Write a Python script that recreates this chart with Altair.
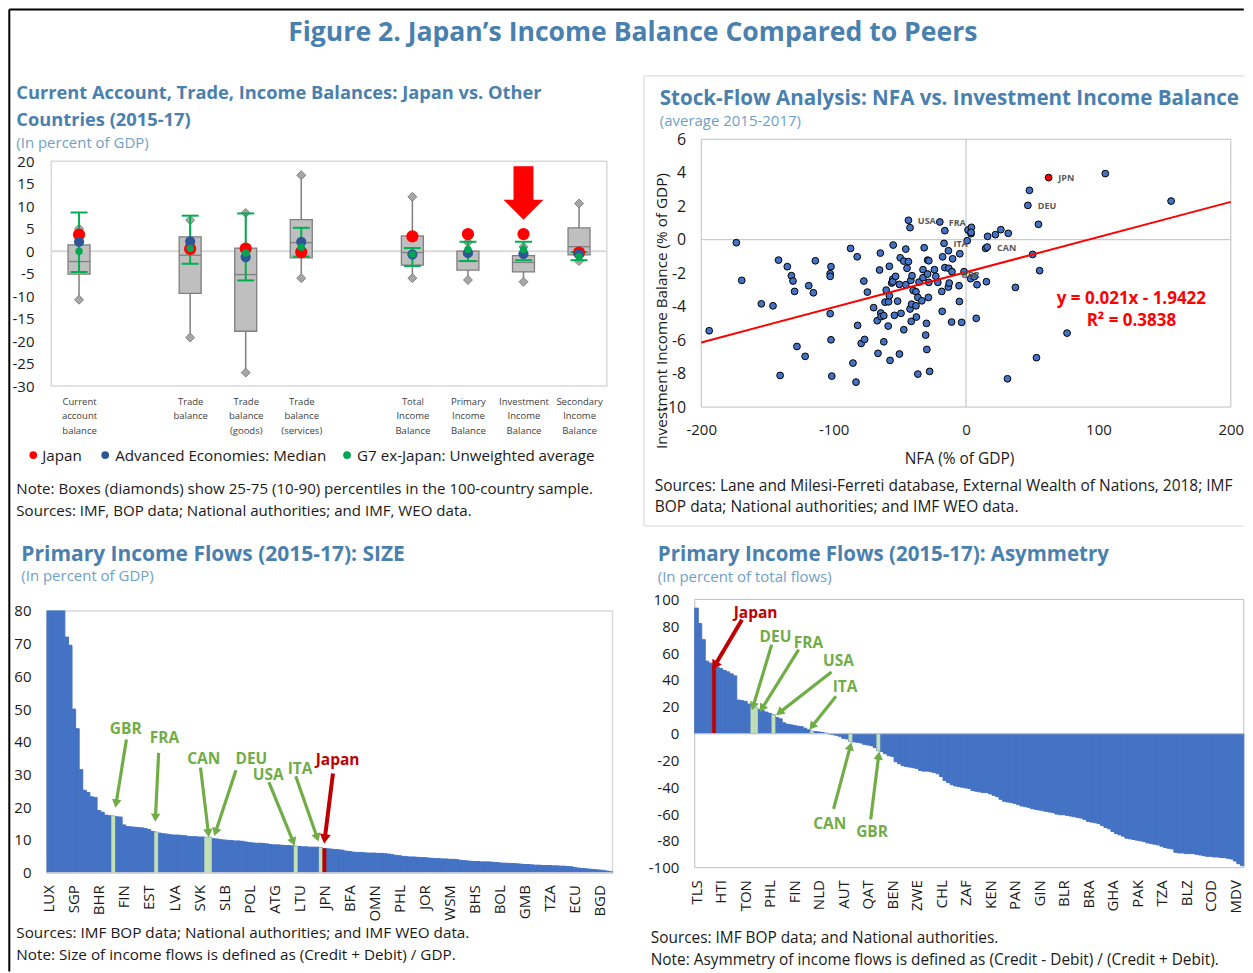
import math
import altair as alt
import pandas as pd

FONT = "Open Sans"
TITLE_C = "#4A80AE"
SUB_C = "#6F9FC8"
TXT_C = "#1a1a1a"
BLUE = "#4472C4"
LGREEN = "#C5E0B4"
GREEN = "#70AD47"
DRED = "#C00000"
FRAME = "#D9D9D9"
HYPHEN = "datum.value < 0 ? '-' + abs(datum.value) : '' + datum.value"

# ---------- Panel A ----------
a_pos = [0, 2, 3, 4, 6, 7, 8, 9]
a_names = ["Current|account|balance", "", "Trade|balance", "Trade|balance|(goods)", "Trade|balance|(services)", "",
           "Total|Income|Balance", "Primary|Income|Balance", "Investment|Income|Balance", "Secondary|Income|Balance"]
a_q1 = [-5.1, -9.4, -17.8, -1.5, -3.1, -4.2, -4.6, -0.8]
a_q3 = [1.4, 3.2, 0.7, 7.0, 3.4, 0.0, -1.0, 5.2]
a_med = [-2.3, -0.9, -5.2, 1.9, -0.3, -2.2, -2.5, 1.0]
a_lo = [-10.8, -19.2, -27.0, -6.0, -6.0, -6.4, -6.8, -2.2]
a_hi = [5.0, 6.9, 8.5, 16.9, 12.1, 2.0, 1.0, 10.6]
a_jpn = [3.7, 0.5, 0.6, -0.2, 3.3, 3.8, 3.8, -0.3]
a_ae = [2.1, 2.2, -1.3, 2.1, -0.7, -0.4, -0.6, -0.7]
a_g7 = [0.0, 0.6, -0.4, 0.9, -0.7, 0.4, 0.4, -1.2]
a_g7hi = [8.6, 7.9, 8.4, 5.2, 0.7, 2.1, 2.1, -0.2]
a_g7lo = [-4.6, -2.8, -6.5, -1.2, -3.3, -2.2, -2.0, -2.0]

# ---------- Panel B ----------
b_x = [-194, -173.5, -169.4, -154.6, -145.8, -141.6, -140.4, -135, -131.9, -130.7, -129.5, -127.7, -121.5, -118.8,
       -115.3, -113.8, -102.6, -102, -101.4, -102, -102.6, -102.6, -87.2, -85.4, -83.1, -82.2, -81.9, -79.2, -76.6,
       -77.2, -74.5, -69.8, -67.1, -66.5, -65.3, -64.7, -64.4, -64.2, -62.1, -62.1, -60.3, -61.2, -58.5, -58.8, -57.9,
       -57.9, -57.4, -56.2, -55.3, -55.3, -55, -54.1, -53.2, -51.7, -50.3, -50.3, -49.7, -49.1, -47, -47, -45.5, -45.5,
       -44.6, -43.5, -43.5, -42.3, -42.3, -41.7, -41.1, -40.8, -41.4, -39.9, -37.8, -37.8, -37.5, -36.4, -36.4, -35.5,
       -33.4, -32.5, -32.5, -31.6, -30.5, -29.9, -29.6, -29, -29, -28.1, -28.4, -28.1, -27.5, -23.9, -22.8, -21.3,
       -19.8, -18, -18.3, -17.7, -16.6, -16, -16, -13.3, -13, -13.3, -12.7, -10.9, -10.6, -10.1, -5.3, -5, -4.7, -3.3,
       -1.5, 0.9, 1.5, 3.5, 4.1, 3.8, 3.8, 6.2, 7.7, 8.3, 14.8, 15.4, 16, 16.3, 22.2, 26.3, 31.9, 31.3, 37.3, 46.7,
       47.9, 50.3, 53.2, 54.7, 55.6, 76.3, 105.2, 154.9]
b_y = [-5.44, -0.18, -2.43, -3.83, -3.95, -1.22, -8.11, -1.61, -2.15, -2.47, -3.09, -6.38, -6.97, -2.75, -3.17, -1.26,
       -4.42, -5.98, -8.15, -1.61, -2.03, -2.19, -0.52, -7.37, -8.51, -1.02, -5.12, -6.2, -5.96, -2.47, -3.13, -4.06,
       -4.84, -6.79, -1.81, -0.8, -4.38, -4.6, -4.54, -6.1, -3.01, -3.73, -3.71, -5.16, -1.59, -3.35, -7.21, -2.59,
       -2.35, -2.51, -0.32, -4.52, -2.19, -3.67, -6.83, -2.67, -1.08, -4.4, -1.28, -5.38, -0.56, -2.69, -1.71, 1.16,
       -1.31, 0.72, -4.14, -2.43, -3.85, -2.15, -4.88, -3.03, -3.11, -3.95, -4.62, -3.45, -8.03, -2.53, -3.65, -1.79,
       -2.27, -0.48, -5.7, -5.0, -6.56, -2.05, -1.22, -1.26, -3.45, -2.55, -7.87, -1.79, -2.19, -2.55, 1.06, -4.28,
       -3.09, -1.02, -0.22, 0.54, -1.67, -0.66, -1.71, -2.83, -2.59, -4.92, -1.91, -1.14, -2.75, -3.69, -0.84, -4.94,
       -1.91, -0.06, 0.58, -2.33, 0.74, 0.36, 0.44, -2.21, -4.7, -2.69, -0.52, -2.51, -0.44, 0.2, 0.3, 0.6, 0.38,
       -8.31, -2.85, 2.05, 2.95, -0.88, -7.05, 0.92, -1.85, -5.58, 3.95, 2.31]
b_jpn_x, b_jpn_y = [62.4], [3.71]
b_fit_x = [-200, 200]
b_fit_y = [-6.14, 2.26]
b_lab = ["JPN", "DEU", "USA", "FRA", "ITA", "CAN", "GBR"]
b_lab_x = [75.7, 61.2, -29.6, -6.6, -4.1, 30.7, 3.3]
b_lab_y = [3.69, 2.01, 1.12, 1.0, -0.24, -0.5, -2.13]

# ---------- Panel C ----------
c_val = [80, 80, 80, 80, 80, 72, 69.5, 50, 44, 31.5, 25.2, 24.5, 23.2, 23, 19, 18.5, 17.6, 17.4, 17.3, 17.1, 17, 14.6,
         14.1, 14, 13.9, 13.8, 13.7, 13.5, 13.2, 12.6, 12.4, 12.1, 11.9, 11.8, 11.6, 11.5, 11.5, 11.4, 11.3, 11.1, 11,
         11, 10.9, 10.9, 10.8, 10.8, 10.4, 10.3, 10.1, 10, 9.9, 9.8, 9.7, 9.7, 9.6, 9.4, 9.2, 9.1, 9, 9, 8.9, 8.8, 8.6,
         8.5, 8.5, 8.4, 8.3, 8.3, 8.2, 8.1, 8, 7.9, 7.9, 7.8, 7.8, 7.8, 7.7, 7.4, 7.3, 7.2, 7.1, 7, 6.9, 6.6, 6.5, 6.3,
         6.2, 6.2, 6.1, 6, 6, 6, 5.9, 5.9, 5.8, 5.7, 5.5, 5.3, 5.2, 5, 4.9, 4.8, 4.8, 4.7, 4.6, 4.6, 4.5, 4.4, 4.3, 4.3,
         4.2, 4.2, 4.1, 4.1, 4, 3.8, 3.7, 3.6, 3.5, 3.4, 3.4, 3.3, 3.3, 3.3, 3.2, 3.1, 3, 2.9, 2.9, 2.8, 2.8, 2.7, 2.6,
         2.5, 2.5, 2.4, 2.3, 2.3, 2.2, 2.2, 2.2, 2.1, 2.1, 2, 2, 1.9, 1.8, 1.6, 1.4, 1.3, 1.2, 1.1, 1, 0.9, 0.8, 0.7,
         0.5, 0.3]
c_ticks = ["LUX", "SGP", "BHR", "FIN", "EST", "LVA", "SVK", "SLB", "POL", "ATG", "LTU", "JPN", "BFA", "OMN", "PHL",
           "JOR", "WSM", "BHS", "BOL", "GMB", "TZA", "ECU", "BGD"]
c_green = [18, 30, 44, 45, 69, 76]
c_red = [77]
c_lab = ["GBR", "FRA", "CAN", "DEU", "USA", "ITA", "Japan"]
c_lab_x = [21.5, 32.3, 43.3, 56.6, 61.3, 70.2, 80.7]
c_lab_y = [43.9, 41.3, 34.8, 34.8, 29.7, 31.7, 34.4]
c_ax0 = [21.7, 30.7, 42.4, 52.3, 61.5, 69.0, 79.4]
c_ay0 = [40.7, 36.6, 32.1, 31.3, 27.7, 29.5, 30.3]
c_ax1 = [18.8, 29.8, 44.6, 46.6, 68.3, 75.0, 77.1]
c_ay1 = [21.1, 16.8, 12.1, 12.4, 9.4, 10.7, 10.3]

# ---------- Panel D ----------
d_val = [93.5, 82, 70, 54, 52.5, 50.5, 49.5, 48.5, 47, 46, 44.5, 43, 25, 24.5, 24, 22, 20, 19.5, 18, 17, 16, 15, 14,
         12, 11, 8, 7, 6.5, 6, 5.5, 5.2, 4, 2.8, 1.8, 1.5, 1.2, 0.8, 0.3, -0.3, -0.8, -1.3, -2, -3.5, -4, -6, -6.2,
         -6.5, -7, -8, -8.5, -9, -10.5, -12.8, -13.5, -15, -16.5, -17, -21, -22.5, -24, -24.5, -25, -25.5, -26, -27.5,
         -28, -28, -28.5, -29, -30, -32, -35, -36.5, -38, -39, -39.5, -40, -40.5, -41, -42.5, -43, -43.5, -44, -44,
         -45, -46, -47, -49, -50.5, -51, -51.5, -52, -53, -54, -54.5, -55, -56, -56.5, -57, -57.5, -58, -58.5, -59,
         -60, -60.5, -60.5, -61, -61.5, -62, -62.5, -63, -64, -65.5, -66, -66.5, -67, -68.5, -70, -71, -73, -74.5,
         -75.5, -76.5, -78, -78.5, -79, -79.5, -80, -80.5, -81.5, -82, -82.5, -83, -84, -85, -85.5, -86, -88.5, -89,
         -89, -89.5, -89.5, -89.5, -90, -90.5, -91, -91.5, -91.5, -92, -92, -92.5, -92.5, -93, -93.5, -95, -97,
         -98.5]
d_ticks = ["TLS", "HTI", "TON", "PHL", "FIN", "NLD", "AUT", "QAT", "BEN", "ZWE", "CHL", "ZAF", "KEN", "PAN", "GIN",
           "BLR", "BRA", "GHA", "PAK", "TZA", "BLZ", "COD", "MDV"]
d_green = [16, 17, 22, 33, 44, 52]
d_red = [5]
d_lab = ["Japan", "DEU", "FRA", "USA", "ITA", "CAN", "GBR"]
d_lab_x = [16.9, 22.6, 32.0, 40.6, 42.5, 38.1, 50.2]
d_lab_y = [90, 71.7, 67.5, 53.8, 34.5, -67.5, -73.4]
d_ax0 = [13.0, 21.5, 29.2, 38.6, 39.9, 39.2, 49.8]
d_ay0 = [84.9, 66.3, 62.5, 45.9, 27.8, -56.1, -64.0]
d_ax1 = [5.2, 16.2, 18.7, 23.7, 33.0, 44.0, 52.1]
d_ay1 = [50.6, 20.3, 18.6, 15.6, 5.2, -9.4, -16.4]

# ---------- page geometry of the four plot areas ----------
AX, AY, AW, AH = 51.0, 161.0, 556.0, 225.0
BX, BY, BW, BH = 701.5, 139.0, 530.0, 268.0
CX, CY, CW, CH = 46.7, 611.0, 566.0, 262.0
DX, DY, DW, DH = 695.0, 599.5, 549.5, 268.5
PAGE_R = 1244.5
COL0_X = CX                     # both left cells start here
COL1_X = DX                     # both right cells start here
ROW0_Y = BY                     # both top cells start here
ROW1_Y = DY                     # both bottom cells start here
COL_GAP = COL1_X - (COL0_X + CW)
ROW_GAP = ROW1_Y - (BY + BH)


def txt(org, px, py, s, size=15, color=TXT_C, bold=False, align="left", angle=0, font=FONT):
    kw = dict(angle=angle) if angle else {}
    return alt.Chart().mark_text(fontSize=size, color=color, fontWeight="bold" if bold else "normal", align=align,
                                 baseline="middle", font=font, **kw).encode(
        x=alt.value(px - org[0]), y=alt.value(py - org[1]), text=alt.value(s))


def frame(org, x0, y0, x1, y1, color=FRAME, width=1.5):
    return alt.Chart().mark_rect(fillOpacity=0, stroke=color, strokeWidth=width).encode(
        x=alt.value(x0 - org[0]), x2=alt.value(x1 - org[0]), y=alt.value(y0 - org[1]), y2=alt.value(y1 - org[1]))


def hv(org, x0, y0, x1, y1, color, width):
    return alt.Chart().mark_rule(color=color, strokeWidth=width).encode(
        x=alt.value(x0 - org[0]), x2=alt.value(x1 - org[0]), y=alt.value(y0 - org[1]), y2=alt.value(y1 - org[1]))


def dot(org, px, py, color):
    return alt.Chart().mark_circle(size=60, color=color, opacity=1).encode(
        x=alt.value(px - org[0]), y=alt.value(py - org[1]))


# ---------- Panel A chart ----------
A_ORG = (COL0_X, ROW0_Y)
a_df = pd.DataFrame(dict(x=a_pos, q1=a_q1, q3=a_q3, med=a_med, lo=a_lo, hi=a_hi, jpn=a_jpn, ae=a_ae, g7=a_g7,
                         g7hi=a_g7hi, g7lo=a_g7lo))
names_js = "[" + ",".join("'" + n + "'" for n in a_names) + "]"
xA = alt.X("x:Q", title=None,
           scale=alt.Scale(domain=[-0.5, 9.5], range=[AX - COL0_X, AX - COL0_X + AW], nice=False, zero=False, padding=0),
           axis=alt.Axis(values=a_pos, labelExpr="split(" + names_js + "[datum.value], '|')", domain=False, ticks=False,
                         grid=False, labelFontSize=9.5, labelColor="#404040", labelFont=FONT, labelPadding=10,
                         labelLineHeight=14.7, labelOverlap=False, labelFlush=False))
a_y_scale = alt.Scale(domain=[-30, 20], range=[AY + AH - ROW0_Y, AY - ROW0_Y], nice=False, zero=False)


def yA(f):
    return alt.Y(f + ":Q", title=None, scale=a_y_scale,
                 axis=alt.Axis(values=list(range(-30, 25, 5)), labelExpr=HYPHEN, domain=False, ticks=False, grid=False,
                               labelFontSize=15, labelColor=TXT_C, labelFont=FONT, labelPadding=13, labelOverlap=False,
                               labelFlush=False))


base_a = alt.Chart(a_df)
arrow_df = pd.DataFrame(dict(x=[8], top=[18.9], bot=[11.3], tip=[9.2]))
a_layers = [
    frame(A_ORG, AX, AY, AX + AW, AY + AH),
    alt.Chart(pd.DataFrame(dict(y=[0]))).mark_rule(color=FRAME, strokeWidth=2).encode(
        x=alt.value(AX - COL0_X), x2=alt.value(AX - COL0_X + AW), y=yA("y")),
    base_a.mark_rule(color="#7F7F7F", strokeWidth=1.5).encode(x=xA, y=yA("lo"), y2="hi:Q"),
    base_a.mark_bar(size=22, fill="#BFBFBF", stroke="#7F7F7F", strokeWidth=1.3).encode(x=xA, y=yA("q1"), y2="q3:Q"),
    base_a.mark_tick(orient="horizontal", size=22, thickness=1.3, color="#7F7F7F", opacity=1).encode(x=xA, y=yA("med")),
    base_a.mark_point(shape="diamond", filled=True, fill="#A6A6A6", stroke="#7F7F7F", strokeWidth=1, size=80,
                      opacity=1).encode(x=xA, y=yA("lo")),
    base_a.mark_point(shape="diamond", filled=True, fill="#A6A6A6", stroke="#7F7F7F", strokeWidth=1, size=80,
                      opacity=1).encode(x=xA, y=yA("hi")),
    base_a.mark_rule(color="#00B050", strokeWidth=2).encode(x=xA, y=yA("g7lo"), y2="g7hi:Q"),
    base_a.mark_tick(orient="horizontal", size=17, thickness=2, color="#00B050", opacity=1).encode(x=xA, y=yA("g7lo")),
    base_a.mark_tick(orient="horizontal", size=17, thickness=2, color="#00B050", opacity=1).encode(x=xA, y=yA("g7hi")),
    base_a.mark_circle(size=150, color="#FF0000", opacity=1).encode(x=xA, y=yA("jpn")),
    base_a.mark_circle(size=105, color="#2F5597", opacity=1).encode(x=xA, y=yA("ae")),
    base_a.mark_circle(size=55, color="#00A651", opacity=1).encode(x=xA, y=yA("g7")),
    alt.Chart(arrow_df).mark_bar(size=20, color="#FF0000").encode(x=xA, y=yA("top"), y2="bot:Q"),
    alt.Chart(arrow_df).mark_point(shape="M-1,-0.5L1,-0.5L0,0.5Z", filled=True, fill="#FF0000", size=1600,
                                   opacity=1, strokeWidth=0).encode(x=xA, y=yA("tip")),
    # page furniture
    hv(A_ORG, 9, 9, 9, 972, "#000000", 2),
    hv(A_ORG, 9, 9, PAGE_R, 9, "#000000", 2),
    txt(A_ORG, 633, 33, "Figure 2. Japan\u2019s Income Balance Compared to Peers", 26.6, TITLE_C, True, "center"),
    txt(A_ORG, 16, 94, "Current Account, Trade, Income Balances: Japan vs. Other", 18.3, TITLE_C, True),
    txt(A_ORG, 16, 121, "Countries (2015-17)", 18.3, TITLE_C, True),
    txt(A_ORG, 16, 143, "(In percent of GDP)", 15, SUB_C),
    dot(A_ORG, 33, 455, "#FF0000"), txt(A_ORG, 42, 455.5, "Japan", 15.2),
    dot(A_ORG, 105, 455, "#2F5597"), txt(A_ORG, 115, 455.5, "Advanced Economies: Median", 15.2),
    dot(A_ORG, 347, 455, "#00A651"), txt(A_ORG, 357, 455.5, "G7 ex-Japan: Unweighted average", 15.2),
    txt(A_ORG, 16, 489.5, "Note: Boxes (diamonds) show 25-75 (10-90) percentiles in the 100-country sample.", 15.1),
    txt(A_ORG, 16, 511.5, "Sources: IMF, BOP data; National authorities; and IMF, WEO data.", 15.1),
]
chart_a = alt.layer(*a_layers).properties(width=CW, height=AY + AH - ROW0_Y)

# ---------- Panel B chart ----------
B_ORG = (COL1_X, ROW0_Y)
xB = alt.X("x:Q", title=None,
           scale=alt.Scale(domain=[-200, 200], range=[BX - COL1_X, BX - COL1_X + BW], nice=False, zero=False),
           axis=alt.Axis(values=[-200, -100, 0, 100, 200], labelExpr=HYPHEN, domain=False, ticks=False, grid=False,
                         labelFontSize=15, labelColor=TXT_C, labelFont=FONT, labelPadding=15, labelOverlap=False,
                         labelFlush=False))
yB = alt.Y("y:Q", title=None, scale=alt.Scale(domain=[-10, 6], nice=False, zero=False),
           axis=alt.Axis(values=list(range(-10, 8, 2)), labelExpr=HYPHEN, domain=False, ticks=False, grid=False,
                         labelFontSize=16, labelColor=TXT_C, labelFont=FONT, labelPadding=9, labelOverlap=False,
                         labelFlush=False))
b_df = pd.DataFrame(dict(x=b_x, y=b_y))
b_layers = [
    hv(B_ORG, 644, 75.5, PAGE_R, 75.5, "#E3E3E3", 1.5),
    hv(B_ORG, 644, 526, PAGE_R, 526, "#E3E3E3", 1.5),
    hv(B_ORG, 644, 75.5, 644, 526, "#E3E3E3", 1.5),
    frame(B_ORG, BX, BY, BX + BW, BY + BH, "#BFBFBF", 1),
    alt.Chart(pd.DataFrame(dict(x=[0]))).mark_rule(color="#BFBFBF", strokeWidth=1).encode(x=xB),
    alt.Chart(pd.DataFrame(dict(y=[0]))).mark_rule(color="#BFBFBF", strokeWidth=1).encode(
        x=alt.value(BX - COL1_X), x2=alt.value(BX - COL1_X + BW), y=yB),
    alt.Chart(b_df).mark_circle(size=46, fill=BLUE, stroke="#000000", strokeWidth=1, opacity=1).encode(x=xB, y=yB),
    alt.Chart(pd.DataFrame(dict(x=b_jpn_x, y=b_jpn_y))).mark_circle(size=46, fill="#FF0000", stroke="#000000",
                                                                   strokeWidth=1, opacity=1).encode(x=xB, y=yB),
    alt.Chart(pd.DataFrame(dict(x=b_fit_x, y=b_fit_y))).mark_line(color="#FF0000", strokeWidth=2).encode(x=xB, y=yB),
    alt.Chart(pd.DataFrame(dict(x=b_lab_x, y=b_lab_y, t=b_lab))).mark_text(fontSize=9, fontWeight="bold",
                                                                          color="#595959", font=FONT).encode(
        x=xB, y=yB, text="t:N"),
    txt(B_ORG, 660, 99, "Stock-Flow Analysis: NFA vs. Investment Income Balance", 20.6, TITLE_C, True),
    txt(B_ORG, 660, 121, "(average 2015-2017)", 15, SUB_C),
    txt(B_ORG, 662, 311, "Investment Income Balance (% of GDP)", 15.3, TXT_C, False, "center", 270),
    txt(B_ORG, 960, 458.5, "NFA (% of GDP)", 15.5, TXT_C, False, "center"),
    txt(B_ORG, 1132, 299, "y = 0.021x - 1.9422", 17, "#FF0000", True, "center"),
    txt(B_ORG, 1132, 321, "R\u00b2 = 0.3838", 17, "#FF0000", True, "center"),
    txt(B_ORG, 655, 486, "Sources: Lane and Milesi-Ferreti database, External Wealth of Nations, 2018; IMF", 15.5),
    txt(B_ORG, 655, 507, "BOP data; National authorities; and IMF WEO data.", 15.5),
]
chart_b = alt.layer(*b_layers).properties(width=BX - COL1_X + BW, height=BH)


# ---------- bar panels ----------
def bar_panel(vals, ticks, green, red, labs, lx, ly, ax0, ay0, ax1, ay1, ydom, ystep, ppx, ppy, yrange, pad, lab_pad,
              zero_line):
    n = len(vals)
    dom = [-0.5, n - 0.5]
    js = "[" + ",".join("'" + t + "'" for t in ticks) + "]"
    xs = alt.X("x:Q", title=None, scale=alt.Scale(domain=dom, nice=False, zero=False),
               axis=alt.Axis(values=[7 * i for i in range(len(ticks))], labelExpr=js + "[round(datum.value/7)]",
                             labelAngle=270, labelAlign="right", labelBaseline="middle", domain=False, ticks=False,
                             grid=False, labelFontSize=15, labelColor=TXT_C, labelFont=FONT, labelPadding=lab_pad,
                             labelOverlap=False, labelFlush=False))
    sc = alt.Scale(domain=ydom, range=yrange, nice=False, zero=False)
    ys = alt.Y("y:Q", title=None, scale=sc,
               axis=alt.Axis(values=list(range(ydom[0], ydom[1] + 1, ystep)), labelExpr=HYPHEN, domain=False,
                             ticks=False, grid=False, labelFontSize=15, labelColor=TXT_C, labelFont=FONT,
                             labelPadding=pad, labelOverlap=False, labelFlush=False))
    df = pd.DataFrame(dict(x=[i - 0.5 for i in range(n)], xe=[i + 0.5 for i in range(n)], y=vals, z=[0] * n))

    def sel(idx):
        return df[df.index.isin(idx)]
    rows = [dict(x0=a, y0=b, x1=c, y1=d, l=l) for a, b, c, d, l in zip(ax0, ay0, ax1, ay1, labs)]
    for r in rows:
        r["ang"] = (math.degrees(math.atan2((r["x1"] - r["x0"]) * ppx, (r["y1"] - r["y0"]) * ppy)) + 360) % 360
    adf = pd.DataFrame(rows)
    layers = [
        alt.Chart(df).mark_bar(color=BLUE, stroke=BLUE, strokeWidth=1).encode(x=xs, x2="xe:Q", y=ys, y2="z:Q"),
        alt.Chart(sel(green)).mark_bar(color=LGREEN, stroke=LGREEN, strokeWidth=0.3).encode(x=xs, x2="xe:Q", y=ys, y2="z:Q"),
        alt.Chart(sel(red)).mark_bar(color=DRED, stroke=DRED, strokeWidth=0.3).encode(x=xs, x2="xe:Q", y=ys, y2="z:Q"),
        zero_line,
    ]
    for col, w, sz, d in [(GREEN, 3.2, 90, adf[adf.l != "Japan"]), (DRED, 4, 120, adf[adf.l == "Japan"])]:
        layers.append(alt.Chart(d).transform_calculate(x="datum.x0", y="datum.y0").mark_rule(color=col, strokeWidth=w)
                      .encode(x=xs, y=ys, x2="x1:Q", y2="y1:Q"))
        layers.append(alt.Chart(d).transform_calculate(x="datum.x1", y="datum.y1").mark_point(
            shape="triangle-up", filled=True, fill=col, size=sz, opacity=1, strokeWidth=0).encode(
            x=xs, y=ys, angle=alt.Angle("ang:Q", scale=None)))
    ldf = pd.DataFrame(dict(x=lx, y=ly, t=labs, col=[DRED if l == "Japan" else GREEN for l in labs]))
    layers.append(alt.Chart(ldf).mark_text(fontSize=15.5, fontWeight="bold", font=FONT).encode(
        x=xs, y=ys, text="t:N", color=alt.Color("col:N", scale=None)))
    return layers


C_ORG = (COL0_X, ROW1_Y)
c_layers = [frame(C_ORG, CX, CY, CX + CW, CY + CH)] + bar_panel(
    c_val, c_ticks, c_green, c_red, c_lab, c_lab_x, c_lab_y, c_ax0, c_ay0, c_ax1, c_ay1, [0, 80], 10,
    CW / len(c_val), CH / 80, [CY + CH - ROW1_Y, CY - ROW1_Y], 16, 12,
    hv(C_ORG, CX, CY + CH, CX + CW, CY + CH, FRAME, 1)) + [
    txt(C_ORG, 21, 555, "Primary Income Flows (2015-17): SIZE", 21, TITLE_C, True),
    txt(C_ORG, 21, 576.5, "(In percent of GDP)", 15, SUB_C),
    txt(C_ORG, 16, 933, "Sources: IMF BOP data; National authorities; and IMF WEO data.", 15.3),
    txt(C_ORG, 16, 955, "Note: Size of income flows is defined as (Credit + Debit) / GDP.", 15.3),
]
chart_c = alt.layer(*c_layers).properties(width=CW, height=CY + CH - ROW1_Y)

D_ORG = (COL1_X, ROW1_Y)
d_layers = [frame(D_ORG, DX, DY, DX + DW, DY + DH, "#BFBFBF", 1)] + bar_panel(
    d_val, d_ticks, d_green, d_red, d_lab, d_lab_x, d_lab_y, d_ax0, d_ay0, d_ax1, d_ay1, [-100, 100], 20,
    DW / len(d_val), DH / 200, [DH, 0], 16, 12,
    hv(D_ORG, DX, DY + DH / 2, DX + DW, DY + DH / 2, "#BFBFBF", 1.2)) + [
    txt(D_ORG, 658, 555.5, "Primary Income Flows (2015-17): Asymmetry", 20.5, TITLE_C, True),
    txt(D_ORG, 658, 577, "(In percent of total flows)", 15, SUB_C),
    txt(D_ORG, 651, 938, "Sources: IMF BOP data; and National authorities.", 15.4),
    txt(D_ORG, 651, 960, "Note: Asymmetry of income flows is defined as (Credit - Debit) / (Credit + Debit).", 15.4),
]
chart_d = alt.layer(*d_layers).properties(width=DW, height=DH)

chart = alt.concat(chart_a, chart_b, chart_c, chart_d, columns=2, bounds="flush", align="none",
                   spacing=alt.RowColnumber(row=ROW_GAP, column=COL_GAP)).resolve_scale(
    x="independent", y="independent", color="independent").configure_view(stroke=None).properties(
    padding=0, background="white")

chart.save("out.html", embed_options={"renderer": "svg", "actions": False})
